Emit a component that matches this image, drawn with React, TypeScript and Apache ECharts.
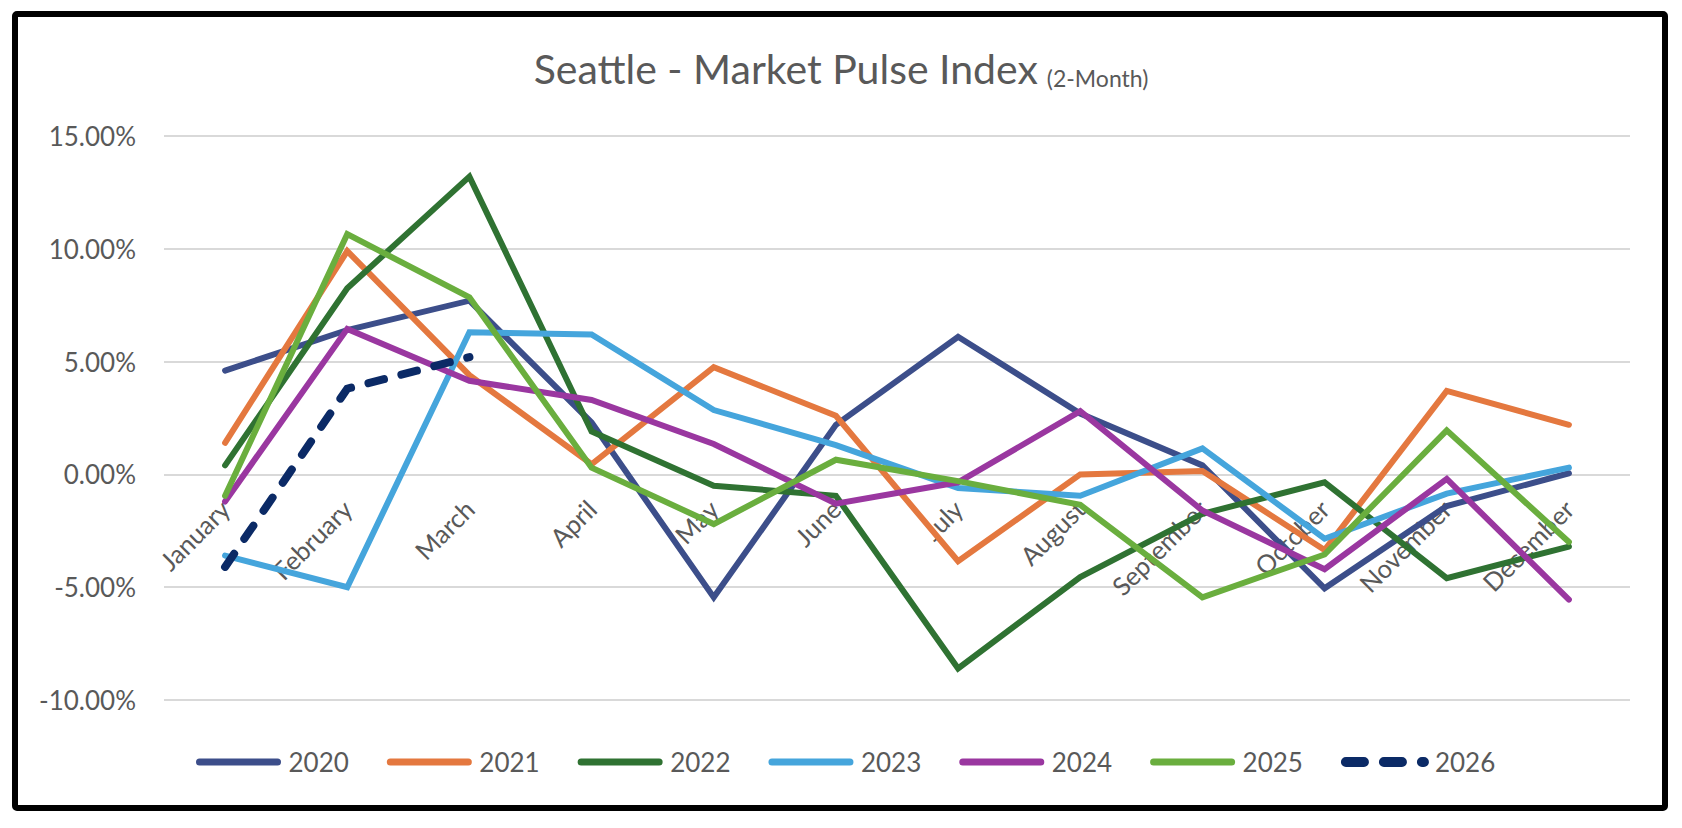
import React, { useEffect, useRef } from "react";
import * as echarts from "echarts";

const months = ["January", "February", "March", "April", "May", "June", "July", "August", "September", "October", "November", "December"];
const yTicks = [-10, -5, 0, 5, 10, 15];

const years = ["2020", "2021", "2022", "2023", "2024", "2025", "2026"];
const colors = ["#3C4E8A", "#E4783F", "#2F7232", "#45A5DC", "#9A37A0", "#6AAE3E", "#0B2A66"];

const v2020 = [4.6, 6.4, 7.7, 2.3, -5.45, 2.2, 6.1, 2.7, 0.4, -5.05, -1.4, 0.05];
const v2021 = [1.4, 9.9, 4.4, 0.45, 4.75, 2.6, -3.85, 0.0, 0.15, -3.35, 3.7, 2.2];
const v2022 = [0.4, 8.25, 13.2, 1.9, -0.5, -0.95, -8.6, -4.55, -1.75, -0.35, -4.6, -3.2];
const v2023 = [-3.6, -5.0, 6.3, 6.2, 2.85, 1.3, -0.6, -0.95, 1.15, -2.85, -0.85, 0.3];
const v2024 = [-1.2, 6.45, 4.15, 3.3, 1.35, -1.3, -0.35, 2.8, -1.6, -4.2, -0.2, -5.55];
const v2025 = [-0.95, 10.65, 7.85, 0.3, -2.2, 0.65, -0.3, -1.35, -5.45, -3.55, 1.95, -3.0];
const v2026 = [-4.1, 3.8, 5.2];

const seriesValues = [v2020, v2021, v2022, v2023, v2024, v2025, v2026];

const FONT = "Lato, 'Open Sans', 'Liberation Sans', sans-serif";
const GRAY = "#595959";

const GRID_TOP = 136;
const GRID_BOTTOM = 128;
const CHART_H = 828;

export default function App() {
  const ref = useRef<HTMLDivElement>(null);

  useEffect(() => {
    if (!ref.current) return;
    const chart = echarts.init(ref.current, undefined, { renderer: "svg" });

    const yMin = yTicks[0];
    const yMax = yTicks[yTicks.length - 1];
    const plotH = CHART_H - GRID_TOP - GRID_BOTTOM;
    // distance from the bottom of the plot up to the 0% line
    const zeroFromBottom = (plotH * (0 - yMin)) / (yMax - yMin);

    const series = years.map((y, i) => {
      const dashed = i === 6;
      return {
        name: y,
        type: "line",
        data: seriesValues[i],
        symbol: "none",
        showSymbol: false,
        z: 2 + i,
        lineStyle: {
          color: colors[i],
          width: dashed ? 8 : 6,
          type: dashed ? [16, 18] : "solid",
          cap: "round",
          join: "miter",
        },
        itemStyle: { color: colors[i] },
        emphasis: { disabled: true },
      };
    });

    const option: any = {
      animation: false,
      backgroundColor: "#ffffff",
      title: {
        text: "{a|Seattle - Market Pulse Index} {b|(2-Month)}",
        left: "center",
        top: 43,
        textStyle: {
          fontWeight: "normal",
          rich: {
            a: { fontSize: 41, fontWeight: "normal", color: GRAY, fontFamily: FONT, lineHeight: 41, verticalAlign: "bottom" },
            b: { fontSize: 23, fontWeight: "normal", color: GRAY, fontFamily: FONT, lineHeight: 29, verticalAlign: "bottom", padding: [0, 0, 0, 4] },
          },
        },
      },
      grid: { left: 164, right: 52, top: GRID_TOP, bottom: GRID_BOTTOM, containLabel: false },
      legend: {
        top: 744,
        left: 191,
        padding: 5,
        itemWidth: 78,
        itemHeight: 14,
        itemGap: 38,
        textStyle: { fontSize: 26, color: GRAY, fontFamily: FONT, padding: [0, 0, 0, 6] },
        itemStyle: { opacity: 0 },
        lineStyle: { width: 7, cap: "round" },
        data: years.map((y, i) =>
          i === 6
            ? { name: y, lineStyle: { width: 10, type: [18, 20], cap: "round" }, itemStyle: { opacity: 0 } }
            : { name: y, itemStyle: { opacity: 0 } }
        ),
      },
      xAxis: {
        type: "category",
        data: months,
        boundaryGap: true,
        position: "bottom",
        axisTick: { show: false },
        axisLine: { show: false, onZero: false },
        axisLabel: {
          interval: 0,
          rotate: 45,
          margin: 30 - zeroFromBottom,
          fontSize: 25.5,
          color: GRAY,
          fontFamily: FONT,
        },
        splitLine: { show: false },
      },
      yAxis: {
        type: "value",
        min: yMin,
        max: yMax,
        interval: 5,
        axisLine: { show: false },
        axisTick: { show: false },
        axisLabel: {
          margin: 28,
          fontSize: 26,
          color: GRAY,
          fontFamily: FONT,
          formatter: (v: number) => v.toFixed(2) + "%",
        },
        splitLine: { lineStyle: { color: "#D9D9D9", width: 2 } },
      },
      graphic: [
        {
          type: "rect",
          shape: { x: 15, y: 14, width: 1650, height: 794, r: 2 },
          style: { fill: "none", stroke: "#000000", lineWidth: 6 },
          z: 100,
          silent: true,
        },
      ],
      series,
    };

    chart.setOption(option);
    return () => chart.dispose();
  }, []);

  return (
    <div
      ref={ref}
      style={{ position: "fixed", left: 0, top: 0, width: 1682, height: 828, background: "#fff" }}
    />
  );
}
